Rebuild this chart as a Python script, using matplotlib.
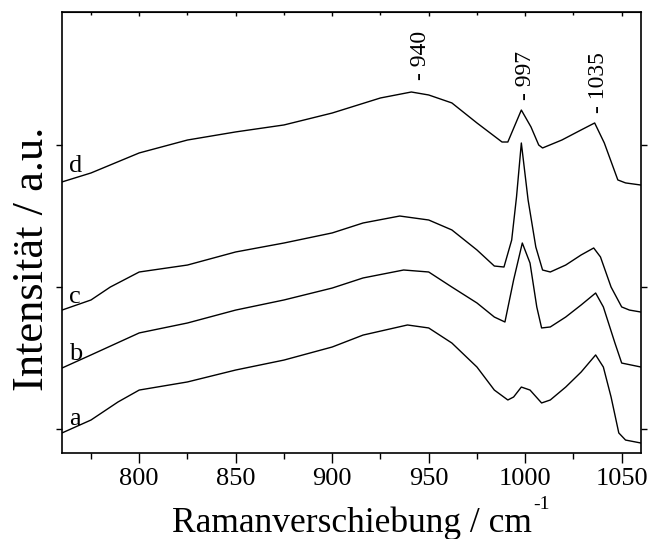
import matplotlib
matplotlib.use("Agg")
from matplotlib import pyplot as plt
from matplotlib.ticker import MultipleLocator

# Raman shift (cm-1) and intensity (a.u.), four spectra a-d
shift_d = [760, 775, 800, 825, 850, 875, 900, 925, 941, 950, 962, 975, 988, 991,
           998, 1003, 1007, 1009, 1019, 1029, 1036, 1041, 1048, 1052, 1060]
int_d = [2739, 2802, 2943, 3034, 3091, 3140, 3224, 3330, 3372, 3351, 3295, 3154, 3020, 3020,
         3245, 3126, 2999, 2978, 3034, 3105, 3154, 3013, 2753, 2732, 2717]

shift_c = [760, 775, 785, 800, 825, 850, 875, 900, 916, 935, 950, 962, 975, 984, 989,
           993, 995.5, 998, 1001.5, 1005.5, 1009, 1013, 1021, 1029, 1035.5, 1039, 1044.5,
           1050, 1054, 1060]
int_c = [1837, 1908, 1999, 2105, 2154, 2246, 2309, 2380, 2450, 2499, 2471, 2401, 2260, 2147, 2140,
         2330, 2633, 3013, 2612, 2281, 2119, 2105, 2154, 2225, 2274, 2211, 1999,
         1859, 1837, 1823]

shift_b = [760, 775, 800, 825, 850, 875, 900, 916, 937, 950, 962, 975, 984, 989.5,
           994, 998.5, 1002.5, 1006, 1008.5, 1013, 1021, 1029, 1036.5, 1040.5, 1046.5,
           1050, 1060]
int_b = [1429, 1521, 1676, 1746, 1837, 1908, 1992, 2063, 2119, 2105, 1999, 1887, 1788, 1753,
         2049, 2309, 2168, 1859, 1711, 1718, 1788, 1873, 1957, 1859, 1605,
         1464, 1436]

shift_a = [760, 775, 789, 800, 825, 850, 875, 900, 916, 939, 950, 962, 975, 984, 991,
           994, 998, 1002.5, 1008.5, 1013, 1021, 1029, 1036.5, 1040.5, 1044.5, 1048.5,
           1052, 1060]
int_a = [972, 1063, 1190, 1274, 1331, 1415, 1485, 1577, 1661, 1732, 1711, 1605, 1436, 1274, 1204,
         1225, 1295, 1274, 1183, 1204, 1295, 1401, 1521, 1436, 1225, 972,
         922, 901]

curve_labels = ["a", "b", "c", "d"]
label_pos = [1028, 1485, 1887, 2809]
peak_labels = ["- 940", "- 997", "- 1035"]
peak_pos = [946, 1000, 1038]
peak_height = [3457, 3316, 3224]

plt.rcParams["font.family"] = ["Liberation Serif", "DejaVu Serif"]

fig = plt.figure(figsize=(6.53, 5.39), dpi=100)
ax = fig.add_axes([0.095, 0.1596, 0.8866, 0.8181])

for xs, ys in [(shift_a, int_a), (shift_b, int_b), (shift_c, int_c), (shift_d, int_d)]:
    ax.plot(xs, ys, color="black", lw=1.0)

for lab, y in zip(curve_labels, label_pos):
    ax.text(763.5, y, lab, fontsize=19, ha="left", va="baseline")

for lab, x, y in zip(peak_labels, peak_pos, peak_height):
    ax.text(x, y, lab, fontsize=17, rotation=90, ha="center", va="bottom")

ax.set_xlim(760, 1060)
ax.set_ylim(831, 3935)
ax.xaxis.set_major_locator(MultipleLocator(50))
ax.xaxis.set_minor_locator(MultipleLocator(25))
ax.set_yticks([1000, 2000, 3000])
ax.set_yticklabels([])
ax.tick_params(axis="x", which="major", direction="out", length=7, width=1.0, labelsize=19)
ax.tick_params(axis="x", which="minor", direction="out", length=4, width=1.0)
ax.tick_params(axis="y", which="major", direction="out", length=4, width=1.0,
               right=True, left=True)
for sp in ax.spines.values():
    sp.set_linewidth(1.2)

top = ax.secondary_xaxis("top")
top.xaxis.set_major_locator(MultipleLocator(50))
top.xaxis.set_minor_locator(MultipleLocator(25))
top.tick_params(which="major", direction="in", length=3, width=1.0, labeltop=False)
top.tick_params(which="minor", direction="in", length=2, width=1.0)

ax.set_xlabel("Ramanverschiebung / cm", fontsize=25.5, labelpad=12)
ax.set_ylabel("Intensität / a.u.", fontsize=32)
ax.yaxis.set_label_coords(-0.018, 0.44)

# superscript "-1" set right after the x label, as a plain hyphen
fig.canvas.draw()
bb = ax.xaxis.label.get_window_extent(fig.canvas.get_renderer())
fig.text(bb.x1 / fig.bbox.width + 0.002, (bb.y1 - 7) / fig.bbox.height, "-1",
         fontsize=14, ha="left", va="bottom")

fig.savefig("out.png", dpi=100)
